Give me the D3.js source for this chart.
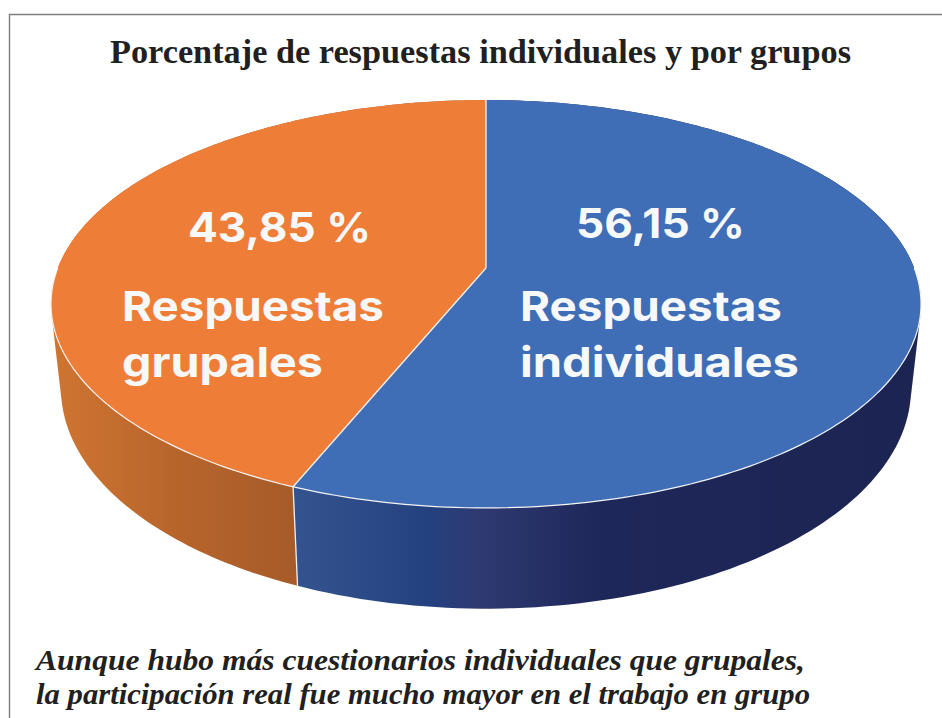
<!DOCTYPE html>
<html><head><meta charset="utf-8">
<script src="https://cdn.jsdelivr.net/npm/d3@7"></script>
<style>html,body{margin:0;background:#fff}svg{display:block}</style></head>
<body><svg id="c" width="942" height="718"></svg>
<script>
const categories = ["Respuestas individuales", "Respuestas grupales"];
const values = [56.15, 43.85];
const valueLabels = ["56,15 %", "43,85 %"];
const labelLines = [["Respuestas", "individuales"], ["Respuestas", "grupales"]];
const titleText = "Porcentaje de respuestas individuales y por grupos";
const captionLines = ["Aunque hubo más cuestionarios individuales que grupales,",
  "la participación real fue mucho mayor en el trabajo en grupo"];
const topColors = ["#3f6eb6", "#ee7d37"];
const sideStops = [
  [[0,"#34548f"],[0.22,"#24417f"],[0.295,"#2e3a72"],[0.49,"#1e2759"],[1,"#1c2452"]],
  [[0,"#cf7531"],[0.5,"#b8652c"],[1,"#a65b28"]]
];
const sideRange = [[291,921],[51,296]];

const svg = d3.select("#c");
const defs = svg.append("defs");

// perspective projection of the pie's disc
const k = -0.1765;
const top_ = {cx:486, cy:268, a:428.2, b:197.6};
const bot = {cx:486, cy:350, a:418.3, b:213};
function proj(p, ang){ // angle clockwise from back
  const u = Math.sin(ang), v = -Math.cos(ang), w = 1 + k*v;
  return [p.cx + p.a*u/w, p.cy + p.b*v/w];
}
function arcPts(p, a0, a1, n=160){
  return d3.range(n+1).map(i => proj(p, a0 + (a1-a0)*i/n));
}
const line = d3.line();
const pieGen = d3.pie().sort(null).value(d => d);
const arcs = pieGen(values);

// frame
svg.append("path").attr("d", line([[9.5,718],[9.5,14.5],[942,14.5]]))
  .attr("fill","none").attr("stroke","#7d7d7d").attr("stroke-width",1.4);

// side walls: convex hull of rim and base arcs gives the tangent silhouette
[1,0].forEach(i => {
  const d = arcs[i];
  const g = defs.append("linearGradient").attr("id","side"+i)
    .attr("gradientUnits","userSpaceOnUse")
    .attr("x1",sideRange[i][0]).attr("x2",sideRange[i][1]).attr("y1",0).attr("y2",0);
  sideStops[i].forEach(s => g.append("stop").attr("offset",s[0]).attr("stop-color",s[1]));
  const t = arcPts(top_, d.startAngle, d.endAngle);
  const b = arcPts(bot, d.startAngle, d.endAngle);
  svg.append("path").attr("d", line(d3.polygonHull(t.concat(b)))+"Z").attr("fill","url(#side"+i+")");
});
// seam on the wall
const seam = arcs[1].startAngle;
svg.append("path").attr("d", line([proj(top_,seam),proj(bot,seam)]))
  .attr("stroke","#f1f1f1").attr("stroke-width",1.3).attr("fill","none");

// top faces
arcs.forEach((d,i) => {
  const pts = [[top_.cx,top_.cy]].concat(arcPts(top_, d.startAngle, d.endAngle));
  svg.append("path").attr("d", line(pts)+"Z").attr("fill",topColors[i]);
});
// white separators and rim
[0, seam].forEach(a => svg.append("path")
  .attr("d", line([[top_.cx,top_.cy], proj(top_,a)]))
  .attr("stroke","#f4f4f4").attr("stroke-width",1.3).attr("fill","none"));
svg.append("path").attr("d", line(arcPts(top_, Math.PI*0.5, Math.PI*1.5)))
  .attr("stroke","#f4f4f4").attr("stroke-width",1.2).attr("fill","none");

// texts
svg.append("text").text(titleText).attr("x",110).attr("y",63)
  .attr("fill","#231f20")
  .attr("font-family","Liberation Serif").attr("font-weight","bold")
  .attr("font-size",33).attr("textLength",741).attr("lengthAdjust","spacingAndGlyphs");

const labelFont = "Inter, 'Open Sans', sans-serif";
const valX = [576, 188], valY = [238, 242], valW = [169, 183];
const lblX = [520, 122], lblW = [[262, 279], [262, 201]];
[0,1].forEach(i => {
  svg.append("text").text(valueLabels[i]).attr("x",valX[i]).attr("y",valY[i])
    .attr("fill","#f7f8fa")
    .attr("font-family",labelFont).attr("font-weight",700).attr("font-size",41)
    .attr("textLength",valW[i]).attr("lengthAdjust","spacingAndGlyphs");
  labelLines[i].forEach((t,j) => svg.append("text").text(t)
    .attr("x",lblX[i]).attr("y",321+j*56).attr("fill","#f7f8fa")
    .attr("font-family",labelFont).attr("font-weight",700).attr("font-size",41)
    .attr("textLength",lblW[i][j]).attr("lengthAdjust","spacingAndGlyphs"));
});
const capW = [769, 774];
captionLines.forEach((t,j) => svg.append("text").text(t)
  .attr("x",36).attr("y",670+j*34).attr("fill","#231f20")
  .attr("font-family","Liberation Serif").attr("font-style","italic").attr("font-weight","bold")
  .attr("font-size",30).attr("textLength",capW[j]).attr("lengthAdjust","spacingAndGlyphs"));
</script></body></html>
